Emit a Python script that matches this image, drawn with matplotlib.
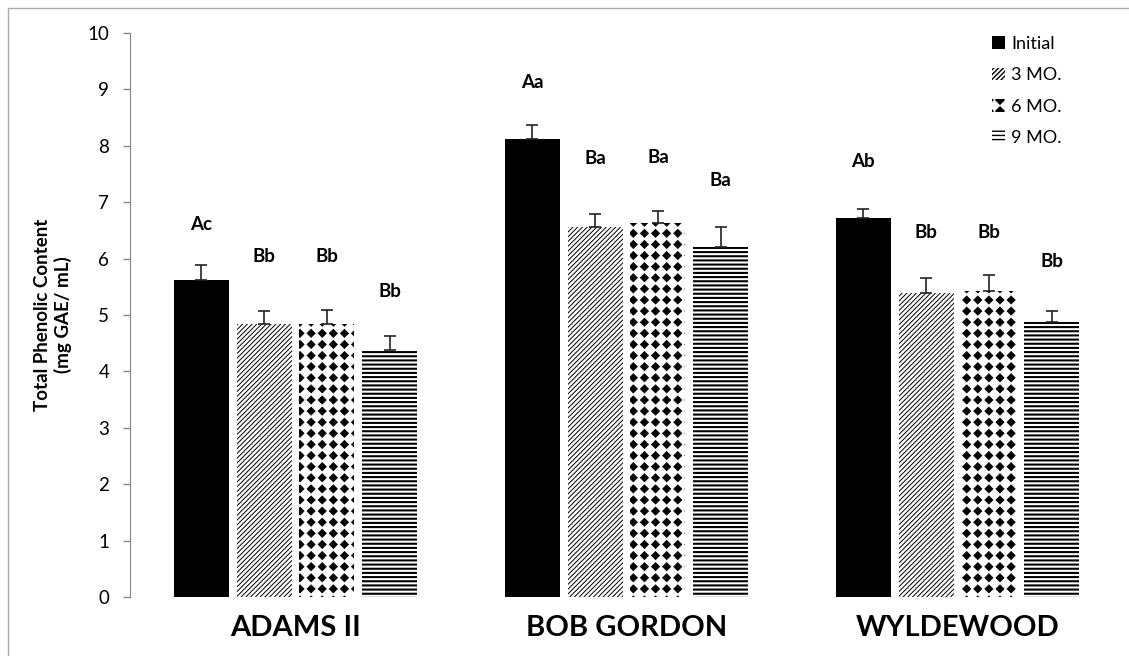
import numpy as np
import matplotlib
matplotlib.use("Agg")
import matplotlib.pyplot as plt
import matplotlib.hatch as mhatch
from matplotlib.path import Path
from matplotlib.patches import Patch, Rectangle

# cultivars, storage times and mean total phenolic content
cultivars = ["ADAMS II", "BOB GORDON", "WYLDEWOOD"]
storage = ["Initial", "3 MO.", "6 MO.", "9 MO."]
means = {
    "Initial": [5.62, 8.12, 6.72],
    "3 MO.":   [4.84, 6.56, 5.39],
    "6 MO.":   [4.84, 6.63, 5.43],
    "9 MO.":   [4.38, 6.21, 4.88],
}
errors = {
    "Initial": [0.27, 0.25, 0.16],
    "3 MO.":   [0.23, 0.23, 0.27],
    "6 MO.":   [0.25, 0.21, 0.28],
    "9 MO.":   [0.25, 0.35, 0.19],
}
# significance letters and the height they are written at
letters = {
    "Initial": ["Ac", "Aa", "Ab"],
    "3 MO.":   ["Bb", "Ba", "Bb"],
    "6 MO.":   ["Bb", "Ba", "Bb"],
    "9 MO.":   ["Bb", "Ba", "Bb"],
}
letter_y = {
    "Initial": [6.61, 9.13, 7.73],
    "3 MO.":   [6.03, 7.78, 6.47],
    "6 MO.":   [6.03, 7.80, 6.47],
    "9 MO.":   [5.41, 7.38, 5.94],
}


class Diamonds(mhatch.HatchPatternBase):
    """Filled diamonds on a square grid, used for the '*' hatch."""

    def __init__(self, hatch, density):
        self.num_rows = hatch.count('*') * 9
        self.num_vertices = (self.num_rows + 1) ** 2 * 5 if self.num_rows else 0

    def set_vertices_and_codes(self, vertices, codes):
        step = 1.0 / self.num_rows
        h = 0.37 * step
        shape = np.array([[0, -h], [h, 0], [0, h], [-h, 0], [0, -h]])
        shape_codes = [Path.MOVETO, Path.LINETO, Path.LINETO, Path.LINETO, Path.CLOSEPOLY]
        vparts, cparts = [], []
        grid = np.linspace(0, 1, self.num_rows + 1)
        for yy in grid:
            for xx in grid:
                vparts.append(shape + [xx, yy])
                cparts.append(shape_codes)
        np.concatenate(vparts, out=vertices)
        np.concatenate(cparts, out=codes)


mhatch._hatch_types = [Diamonds if t is mhatch.Stars else t for t in mhatch._hatch_types]

styles = {
    "Initial": dict(color="black", hatch=None, hlw=1.0),
    "3 MO.":   dict(color="white", hatch="///////", hlw=0.7),
    "6 MO.":   dict(color="white", hatch="*", hlw=0.5),
    "9 MO.":   dict(color="white", hatch="----", hlw=1.5),
}

plt.rcParams['font.family'] = ['Lato', 'DejaVu Sans']

fig = plt.figure(figsize=(11.29, 6.56), dpi=100)
ax = fig.add_axes([130 / 1129, 1 - 597 / 656, 993 / 1129, 564 / 656])

x = np.arange(len(cultivars))
width = 0.166
step = 0.19

handles = []
for i, s in enumerate(storage):
    st = styles[s]
    pos = x + (i - 1.5) * step
    if st["hatch"] is None:
        bars = ax.bar(pos, means[s], width, color=st["color"], edgecolor="black", linewidth=0)
    else:
        with plt.rc_context({"hatch.linewidth": st["hlw"]}):
            bars = ax.bar(pos, means[s], width, color="white", edgecolor="black",
                          linewidth=0, hatch=st["hatch"])
        for b in bars:
            if hasattr(b, "set_hatch_linewidth"):
                b.set_hatch_linewidth(st["hlw"])
    ax.errorbar(pos, means[s], yerr=[np.zeros(len(x)), errors[s]], fmt="none",
                ecolor="#222222", elinewidth=1.2, capsize=4, capthick=1.2)
    for xp, ly, txt in zip(pos, letter_y[s], letters[s]):
        ax.text(xp, ly, txt, ha="center", va="center", fontsize=13.5, fontweight="bold")
    with plt.rc_context({"hatch.linewidth": st["hlw"]}):
        h = Patch(facecolor=st["color"] if st["hatch"] is None else "white",
                  edgecolor="black", linewidth=0, hatch=st["hatch"], label=s)
    if hasattr(h, "set_hatch_linewidth"):
        h.set_hatch_linewidth(st["hlw"])
    handles.append(h)

ax.set_xlim(-0.5, 2.5)
ax.set_ylim(0, 10)
ax.set_yticks(range(0, 11))
ax.set_xticks(x)
ax.set_xticklabels(cultivars, fontsize=21, fontweight="bold")
ax.tick_params(axis="x", length=0, pad=13)
ax.tick_params(axis="y", length=5, width=1, color="#888888", pad=10, labelsize=13.5)
for side in ("top", "right", "bottom"):
    ax.spines[side].set_visible(False)
ax.spines["left"].set_color("#888888")
ax.set_ylabel("Total Phenolic Content\n(mg GAE/ mL)", fontsize=13.5, fontweight="bold",
              linespacing=1.2)
ax.yaxis.set_label_coords(-0.058, 0.5)

fig.legend(handles=handles, loc="upper left", bbox_to_anchor=(992 / 1129, 1 - 36 / 656),
           frameon=False, fontsize=13, handlelength=0.7, handleheight=0.7,
           handletextpad=0.35, labelspacing=0.85, borderpad=0, borderaxespad=0)

# thin outline round the figure
fig.patches.append(Rectangle((8 / 1129, -0.1), 1.2, 1 - 8 / 656 + 0.1,
                             transform=fig.transFigure, fill=False,
                             edgecolor="#aaaaaa", linewidth=1))

fig.savefig("out.png", dpi=100)
